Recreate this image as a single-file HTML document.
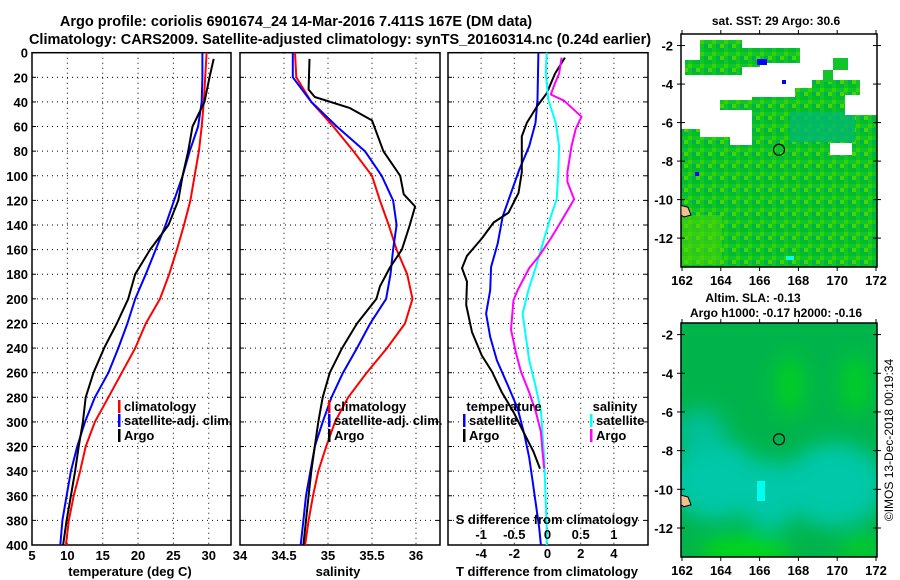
<!DOCTYPE html>
<html><head><meta charset="utf-8">
<style>
body{margin:0;background:#fff;}
svg{display:block;font-family:"Liberation Sans",sans-serif;font-weight:bold;}
</style></head>
<body>
<svg id="c" width="900" height="580" viewBox="0 0 900 580" xmlns="http://www.w3.org/2000/svg">
<defs>
<pattern id="sstpat" width="12" height="12" patternUnits="userSpaceOnUse">
<rect width="12" height="12" fill="#10c42a"/>
<rect x="0" y="0" width="4" height="4" fill="#00b83a"/>
<rect x="4" y="4" width="4" height="4" fill="#33d400"/>
<rect x="8" y="0" width="4" height="4" fill="#00c020"/>
<rect x="8" y="8" width="4" height="4" fill="#00b050"/>
<rect x="0" y="8" width="4" height="4" fill="#44d800"/>
</pattern>
<filter id="blur" x="-20%" y="-20%" width="140%" height="140%"><feGaussianBlur stdDeviation="10"/></filter>
<clipPath id="slaclip"><rect x="681" y="323" width="196" height="234"/></clipPath>
</defs>
</svg>
<script>
const depths = [0,20,40,60,80,100,120,140,160,180,200,220,240,260,280,300,320,340,360,380,400];
const climT = [29.7,29.5,29.3,29.0,28.6,28.0,27.4,26.5,25.5,24.4,23.1,21.1,19.6,17.7,15.8,13.9,12.6,11.8,10.9,10.2,9.8];
const satT  = [29.1,29.1,29.0,28.5,27.3,26.3,25.1,23.9,22.5,21.1,19.6,18.5,17.2,15.8,13.9,12.5,11.4,10.5,9.9,9.3,9.0];
const argoDepthT = [5,20,40,60,80,100,120,140,160,180,200,220,240,260,280,300,320,340,360,380,400];
const argoT = [30.7,30.1,29.4,27.7,27.1,26.3,25.7,24.3,21.7,19.6,18.6,17.0,15.2,13.7,12.6,12.2,11.6,11.1,10.5,9.9,9.4];
const climS = [34.625,34.64,34.81,35.06,35.29,35.5,35.59,35.69,35.78,35.9,35.96,35.875,35.67,35.44,35.23,35.08,34.98,34.89,34.83,34.78,34.74];
const satS  = [34.6,34.6,34.81,35.1,35.42,35.61,35.74,35.78,35.74,35.71,35.66,35.48,35.33,35.17,35.04,34.94,34.85,34.8,34.75,34.72,34.69];
const argoDepthS = [5,30,36,45,55,80,100,115,125,140,160,175,190,200,220,240,260,280,300,320,340,360,380,400];
const argoS = [34.79,34.78,34.85,35.25,35.5,35.63,35.82,35.86,35.99,35.93,35.84,35.7,35.59,35.55,35.33,35.16,35.02,34.94,34.89,34.85,34.81,34.78,34.75,34.72];
const diffDepthSatT = [0,38,57,76,95,114,133,155,174,193,212,231,250,270,289,310,329,348,367,386,400];
const diffSatT = [-0.55,-0.6,-0.72,-1.1,-1.7,-2.2,-2.7,-3.0,-3.4,-3.45,-3.7,-3.45,-3.05,-2.4,-1.8,-1.4,-1.1,-0.9,-0.7,-0.5,-0.4];
const diffDepthArgoT = [4,17,33,44,57,68,84,97,114,130,138,151,165,175,186,205,227,246,259,276,292,308,324,338];
const diffArgoT = [1.05,0.45,-0.05,-0.65,-1.25,-1.55,-1.55,-1.55,-1.75,-2.35,-3.25,-3.96,-4.85,-5.15,-4.85,-4.9,-4.55,-3.96,-3.35,-2.75,-2.05,-1.45,-0.85,-0.45];
const diffDepthSatS = [0,17,38,57,76,97,119,133,151,174,193,212,231,250,272,291,310,329,348,386,400];
const diffSatS = [-0.012,-0.025,0.012,0.125,0.175,0.162,0.138,0.05,-0.05,-0.175,-0.288,-0.375,-0.325,-0.275,-0.175,-0.1,-0.075,-0.05,-0.038,-0.012,-0.012];
const diffDepthArgoS = [4,17,25,34,39,52,62,76,97,105,119,133,151,165,175,193,201,225,244,259,276,292,308,324,338];
const diffArgoS = [0.212,0.175,0.112,0.05,0.25,0.512,0.425,0.362,0.3,0.3,0.4,0.25,0.05,-0.125,-0.275,-0.45,-0.512,-0.55,-0.475,-0.4,-0.275,-0.175,-0.1,-0.075,-0.05];
const depthTicks = [0,20,40,60,80,100,120,140,160,180,200,220,240,260,280,300,320,340,360,380,400];
const tTicks = [5,10,15,20,25,30];
const sTicks = [34,34.5,35,35.5,36];
const dTTicks = [-4,-2,0,2,4];
const dSTicks = [-1,-0.5,0,0.5,1];
const latTicks = [-2,-4,-6,-8,-10,-12];
const lonTicks = [162,164,166,168,170,172];

const NS="http://www.w3.org/2000/svg";
const svg=document.getElementById('c');
function el(tag,attrs,parent){const e=document.createElementNS(NS,tag);for(const k in attrs)e.setAttribute(k,attrs[k]);(parent||svg).appendChild(e);return e;}
function txt(s,x,y,size,anchor,parent){const t=el('text',{x:x,y:y,'font-size':size,'text-anchor':anchor||'middle',fill:'#000'},parent);t.textContent=s;return t;}

const yD=d=>52.7+d*(545-52.7)/400;
const P1={l:32,r:231}, P2={l:240,r:440}, P3={l:448,r:648};
const xT=v=>32+(v-5)*7.07;
const xS=v=>240+(v-34)*88;
const xDT=v=>547.5+v*16.6;
const xDS=v=>547.5+v*4*16.6;

let t=txt('Argo profile: coriolis 6901674_24 14-Mar-2016 7.411S 167E (DM data)',296,26,14.5);


t=txt('Climatology: CARS2009. Satellite-adjusted climatology: synTS_20160314.nc (0.24d earlier)',340,44,14.5);



function panel(P,name,xticks,xf){
  const g=el('g',{});
  
  
  depthTicks.forEach(d=>{ if(d>0&&d<400) el('line',{x1:P.l,x2:P.r,y1:yD(d),y2:yD(d),stroke:'#000','stroke-width':1,'stroke-dasharray':'1,4'},g);
    el('line',{x1:P.l,x2:P.l+4,y1:yD(d),y2:yD(d),stroke:'#000'},g);
    el('line',{x1:P.r-4,x2:P.r,y1:yD(d),y2:yD(d),stroke:'#000'},g);});
  xticks.forEach(v=>{const x=xf(v); if(x>P.l+2&&x<P.r-2) el('line',{x1:x,x2:x,y1:yD(0),y2:yD(400),stroke:'#000','stroke-dasharray':'1,4'},g);});
  el('rect',{x:P.l,y:yD(0),width:P.r-P.l,height:yD(400)-yD(0),fill:'none',stroke:'#000','stroke-width':1.5},g);
  return g;
}
function line(g,xs,ds,xf,color,name,w){
  const p=el('polyline',{points:xs.map((v,i)=>xf(v).toFixed(1)+','+yD(ds[i]).toFixed(1)).join(' '),fill:'none',stroke:color,'stroke-width':w||2,'stroke-linejoin':'round'},g);
  
  
}
const g1=panel(P1,'temperature-panel',tTicks,xT);
line(g1,climT,depths,xT,'#f00','climatology-temperature-line');
line(g1,satT,depths,xT,'#00f','satellite-temperature-line');
line(g1,argoT,argoDepthT,xT,'#000','argo-temperature-line');
depthTicks.forEach(d=>{const l=txt(String(d),28,yD(d)+5,13,'end',g1);});
tTicks.forEach(v=>{const l=txt(String(v),xT(v),560,13,'middle',g1);});
t=txt('temperature (deg C)',130,576,13,'middle',g1);


const g2=panel(P2,'salinity-panel',sTicks,xS);
line(g2,climS,depths,xS,'#f00','climatology-salinity-line');
line(g2,satS,depths,xS,'#00f','satellite-salinity-line');
line(g2,argoS,argoDepthS,xS,'#000','argo-salinity-line');
sTicks.forEach(v=>{const l=txt(String(v),xS(v),560,13,'middle',g2);});
t=txt('salinity',338,576,13,'middle',g2);


const g3=panel(P3,'difference-panel',dTTicks,xDT);
line(g3,diffSatT,diffDepthSatT,xDT,'#00f','satellite-temperature-difference-line');
line(g3,diffArgoT,diffDepthArgoT,xDT,'#000','argo-temperature-difference-line');
line(g3,diffSatS,diffDepthSatS,xDS,'#0ff','satellite-salinity-difference-line');
line(g3,diffArgoS,diffDepthArgoS,xDS,'#f0f','argo-salinity-difference-line');
dTTicks.forEach(v=>{const l=txt(String(v),xDT(v),558,13,'middle',g3);});
dSTicks.forEach(v=>{const l=txt(String(v),xDS(v),539,13,'middle',g3);});
t=txt('S difference from climatology',547,524,13,'middle',g3);


t=txt('T difference from climatology',547,576,13,'middle',g3);



function legendEntry(x,y,color,label,name){
  const g=el('g',{});
  
  
  el('rect',{x:x,y:y-11,width:2.5,height:13,fill:color},g);
  txt(label,x+6,y,13,'start',g);
}
legendEntry(118,411,'#f00','climatology','legend-climatology');
legendEntry(118,425,'#00f','satellite-adj. clim.','legend-satellite-adj');
legendEntry(118,440,'#000','Argo','legend-argo');
legendEntry(328,411,'#f00','climatology','legend-climatology-salinity');
legendEntry(328,425,'#00f','satellite-adj. clim.','legend-satellite-adj-salinity');
legendEntry(328,440,'#000','Argo','legend-argo-salinity');
t=txt('temperature',504,411,13,'middle');


legendEntry(463,425,'#00f','satellite','legend-temperature-satellite');
legendEntry(463,440,'#000','Argo','legend-temperature-argo');
t=txt('salinity',615,411,13,'middle');


legendEntry(590,425,'#0ff','satellite','legend-salinity-satellite');
legendEntry(590,440,'#f0f','Argo','legend-salinity-argo');

function mapAxes(top,bottom,name){
  const g=el('g',{});
  
  
  const L=681,R=877;
  const yLat=v=>top+( -1.4 - v)*(bottom-top)/12.1;
  const xLon=v=>682+(v-162)*19.4;
  el('rect',{x:L,y:top,width:R-L,height:bottom-top,fill:'none',stroke:'#000','stroke-width':1.5},g);
  latTicks.forEach(v=>{const y=yLat(v);el('line',{x1:L,x2:L+4,y1:y,y2:y,stroke:'#000'},g);el('line',{x1:R-4,x2:R,y1:y,y2:y,stroke:'#000'},g);
    el('line',{x1:L-4,x2:L,y1:y,y2:y,stroke:'#000'},g);el('line',{x1:R,x2:R+4,y1:y,y2:y,stroke:'#000'},g);
    txt(String(v),673,y+5,13,'end',g);});
  lonTicks.forEach(v=>{const x=xLon(v);el('line',{x1:x,x2:x,y1:bottom,y2:bottom+4,stroke:'#000'},g);el('line',{x1:x,x2:x,y1:top-4,y2:top,stroke:'#000'},g);
    txt(String(v),x,bottom+18,13,'middle',g);});
  el('circle',{cx:xLon(167),cy:yLat(-7.411),r:5.5,fill:'none',stroke:'#000','stroke-width':1.2},g);
  el('path',{d:`M681 ${yLat(-10.3)} L688 ${yLat(-10.4)} L691 ${yLat(-10.8)} L684 ${yLat(-10.9)} L681 ${yLat(-10.8)}Z`,fill:'#f5c090',stroke:'#000','stroke-width':1},g);
  return g;
}
const sst=el('g',{});


el('path',{d:'M681 129 L700 129 L700 137 L730 137 L730 145 L752 145 L752 110 L720 110 L720 100 L752 100 L752 97 L795 97 L795 88 L812 88 L812 80 L860 80 L860 115 L877 115 L877 267 L681 267 Z',fill:'url(#sstpat)'},sst);
el('path',{d:'M685 60 L700 60 L700 40 L742 40 L742 48 L800 48 L800 63 L760 63 L760 67 L742 67 L742 75 L685 75 Z',fill:'url(#sstpat)'},sst);
el('rect',{x:833,y:58,width:15,height:12,fill:'#10c42a'},sst);
el('rect',{x:823,y:70,width:10,height:12,fill:'#10c42a'},sst);
el('rect',{x:790,y:112,width:65,height:30,fill:'#00b870',opacity:0.8},sst);
el('rect',{x:830,y:143,width:22,height:12,fill:'#fff'},sst);
el('rect',{x:845,y:95,width:15,height:20,fill:'#fff'},sst);
el('rect',{x:682,y:215,width:40,height:50,fill:'#55d800',opacity:0.5},sst);
el('rect',{x:757,y:59,width:10,height:6,fill:'#00f'},sst);
el('rect',{x:782,y:80,width:4,height:4,fill:'#00f'},sst);
el('rect',{x:695,y:172,width:4,height:4,fill:'#00f'},sst);
el('rect',{x:786,y:256,width:8,height:4,fill:'#00ffee'},sst);
mapAxes(34,267,'sst-map-axes');
t=txt('sat. SST: 29 Argo: 30.6',776,25,12);



const sla=el('g',{'clip-path':'url(#slaclip)'});


el('rect',{x:681,y:323,width:196,height:234,fill:'#00b44c'},sla);
const blurG=el('g',{filter:'url(#blur)'},sla);
el('ellipse',{cx:715,cy:480,rx:45,ry:40,fill:'#00c8a8'},blurG);
el('ellipse',{cx:835,cy:485,rx:50,ry:42,fill:'#00c8a8'},blurG);
el('ellipse',{cx:770,cy:495,rx:30,ry:35,fill:'#00c8a8'},blurG);
el('ellipse',{cx:700,cy:430,rx:25,ry:20,fill:'#00c098'},blurG);
el('ellipse',{cx:790,cy:385,rx:14,ry:30,fill:'#00d020'},blurG);
el('ellipse',{cx:855,cy:385,rx:13,ry:30,fill:'#00d020'},blurG);
el('ellipse',{cx:745,cy:552,rx:45,ry:16,fill:'#00d818'},blurG);
el('ellipse',{cx:860,cy:548,rx:20,ry:12,fill:'#00d020'},blurG);
el('rect',{x:757,y:481,width:8,height:20,fill:'#00ffee'},sla);
mapAxes(323,557,'sla-map-axes');
t=txt('Altim. SLA: -0.13',753,302,12);


t=txt('Argo h1000: -0.17 h2000: -0.16',776,317,12);


t=txt('©IMOS 13-Dec-2018 00:19:34',0,0,12,'middle');
t.setAttribute('transform','translate(893,440) rotate(-90)');
t.setAttribute('font-weight','normal');


</script>
</body></html>
